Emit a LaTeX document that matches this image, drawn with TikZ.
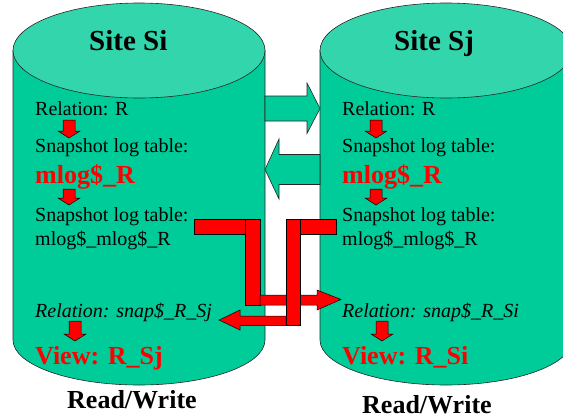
\documentclass[tikz,border=0pt]{standalone}
\usepackage{fontspec}
\setmainfont{Liberation Serif}
\definecolor{cangreen}{RGB}{0,204,153}
\definecolor{lidgreen}{RGB}{51,214,172}
\tikzset{
  can/.style={draw=black!85,line width=.6pt,fill=cangreen},
  lid/.style={draw=black!85,line width=.6pt,fill=lidgreen},
  redbar/.style={draw=black,line width=.5pt,fill=red},
  txt/.style={anchor=base west,inner sep=0pt,font=\fontsize{20}{24}\selectfont},
  redtxt/.style={anchor=base west,inner sep=0pt,text=red,font=\fontsize{26}{30}\selectfont\bfseries},
  title/.style={anchor=base west,inner sep=0pt,font=\fontsize{29}{34}\selectfont\bfseries},
  rw/.style={anchor=base west,inner sep=0pt,font=\fontsize{26}{30}\selectfont\bfseries}
}
% small red down arrow: centre x, top, head base, tip
\newcommand{\smalldown}[4]{%
  \draw[redbar] (#1-6,#2) -- (#1+6,#2) -- (#1+6,#3) -- (#1+11,#3) -- (#1,#4)
    -- (#1-11,#3) -- (#1-6,#3) -- cycle;}
\begin{document}
\begin{tikzpicture}[x=1pt,y=-1pt]
  \useasboundingbox (0,0) rectangle (563,418);
  \clip (0,0) rectangle (563,418);
  % the two sites
  \foreach \cx in {139,446} {
    \draw[can] (\cx-126,50.5) -- (\cx-126,340)
      arc[start angle=180,end angle=0,x radius=126,y radius=45]
      -- (\cx+126,50.5) -- cycle;
    \draw[lid] (\cx,50.5) ellipse[x radius=126,y radius=47.5];
  }
  \node[title] (si) at (89,50) {Site Si};
  \node[title] (sj) at (394,50) {Site Sj};
  % green arrows between sites
  \draw[can] (265,96) -- (307,96) -- (307,83) -- (320,108.5) -- (307,133.5)
    -- (307,121) -- (265,121) -- cycle;
  \draw[can] (265,169.5) -- (279,139) -- (279,154.5) -- (320,154.5) -- (320,184.5)
    -- (279,184.5) -- (279,199) -- cycle;
  % site Si
  \node[txt] (reli) at (35,115.5) {Relation: R};
  \node[txt] (snapi) at (35,152) {Snapshot log table:};
  \node[redtxt] (mlogi) at (35,183) {mlog\$\_R};
  \node[txt] (snapii) at (35,221.5) {Snapshot log table:};
  \node[txt] (mmlogi) at (35,245.5) {mlog\$\_mlog\$\_R};
  \node[txt,font=\fontsize{20}{24}\selectfont\itshape] (snrel) at (35,317.5) {Relation: snap\$\_R\_Sj};
  \node[redtxt] (viewi) at (35,364.5) {View: R\_Sj};
  \node[rw] (rwi) at (67,408.5) {Read/Write};
  \smalldown{69}{120}{131}{138}
  \smalldown{69}{189}{198}{205}
  \smalldown{75}{321}{334}{341}
  % site Sj
  \node[txt] (relj) at (342,115.5) {Relation: R};
  \node[txt] (snapj) at (342,152) {Snapshot log table:};
  \node[redtxt] (mlogj) at (342,183) {mlog\$\_R};
  \node[txt] (snapjj) at (342,221.5) {Snapshot log table:};
  \node[txt] (mmlogj) at (342,245.5) {mlog\$\_mlog\$\_R};
  \node[txt,font=\fontsize{20}{24}\selectfont\itshape] (snrelj) at (342,317.5) {Relation: snap\$\_R\_Si};
  \node[redtxt] (viewj) at (342,364.5) {View: R\_Si};
  \node[rw] (rwj) at (362,413.5) {Read/Write};
  \smalldown{376}{120}{131}{138}
  \smalldown{376}{189}{198}{205}
  \smalldown{382}{321}{334}{341}
  % red refresh paths
  \draw[redbar] (194,219.5) rectangle (260,234.5);
  \draw[redbar] (245,219.5) rectangle (260,305);
  \draw[redbar] (260,295) -- (317,295) -- (317,290) -- (341,299.5) -- (317,310)
    -- (317,305) -- (260,305) -- cycle;
  \draw[redbar] (300,219.5) rectangle (336,234.5);
  \draw[redbar] (286,219.5) rectangle (300,325.5);
  \draw[redbar] (286,316) -- (240,316) -- (240,310) -- (219,320) -- (240,330)
    -- (240,325.5) -- (286,325.5) -- cycle;
\end{tikzpicture}
\end{document}
